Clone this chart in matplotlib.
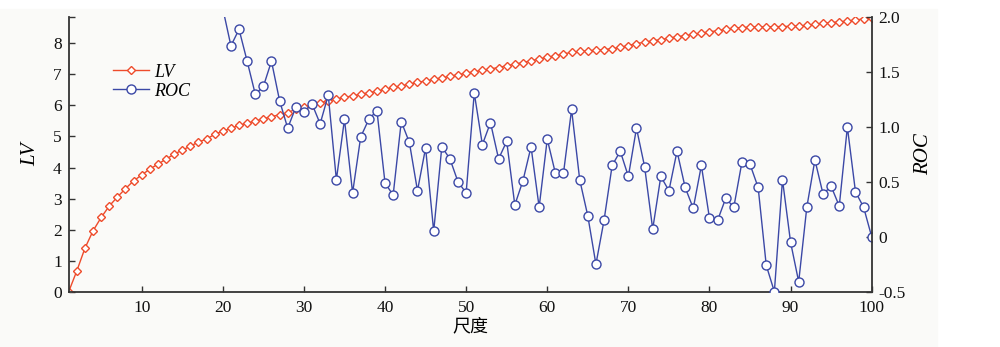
import numpy as np
import matplotlib.pyplot as plt
from matplotlib.patches import Rectangle

plt.rcParams['font.family'] = ['Liberation Serif', 'Noto Sans CJK SC']

# scale 1..100
scale = np.arange(1, 101)

lv = [0.00, 0.67, 1.40, 1.96, 2.39, 2.76, 3.05, 3.32, 3.57, 3.76,
      3.95, 4.11, 4.27, 4.43, 4.56, 4.69, 4.82, 4.92, 5.07, 5.17,
      5.26, 5.36, 5.43, 5.50, 5.57, 5.64, 5.70, 5.77, 5.88, 5.95,
      6.02, 6.09, 6.15, 6.21, 6.26, 6.31, 6.36, 6.41, 6.46, 6.52,
      6.58, 6.63, 6.69, 6.74, 6.79, 6.84, 6.89, 6.94, 6.99, 7.04,
      7.09, 7.13, 7.18, 7.22, 7.28, 7.33, 7.38, 7.44, 7.50, 7.55,
      7.60, 7.66, 7.71, 7.74, 7.76, 7.78, 7.80, 7.83, 7.87, 7.93,
      7.99, 8.04, 8.08, 8.12, 8.17, 8.21, 8.25, 8.29, 8.33, 8.37,
      8.41, 8.45, 8.49, 8.51, 8.52, 8.53, 8.53, 8.54, 8.54, 8.55,
      8.56, 8.58, 8.61, 8.64, 8.67, 8.69, 8.72, 8.75, 8.79, 8.82]

roc_x = np.arange(20, 101)
roc = [2.08, 1.74, 1.89, 1.60, 1.30, 1.37, 1.60, 1.24, 0.99, 1.18,
       1.14, 1.21, 1.03, 1.29, 0.52, 1.07, 0.40, 0.91, 1.07, 1.15,
       0.49, 0.38, 1.05, 0.86, 0.42, 0.81, 0.05, 0.82, 0.71, 0.50,
       0.40, 1.31, 0.84, 1.04, 0.71, 0.87, 0.29, 0.51, 0.82, 0.27,
       0.89, 0.58, 0.58, 1.16, 0.52, 0.19, -0.25, 0.15, 0.65, 0.78,
       0.55, 0.99, 0.64, 0.07, 0.55, 0.42, 0.78, 0.45, 0.26, 0.65,
       0.17, 0.15, 0.35, 0.27, 0.68, 0.66, 0.45, -0.26, -0.50, 0.52,
       -0.05, -0.41, 0.27, 0.70, 0.39, 0.46, 0.28, 1.00, 0.41, 0.27,
       0.00]

x_ticks = [10, 20, 30, 40, 50, 60, 70, 80, 90, 100]
lv_ticks = [0, 1, 2, 3, 4, 5, 6, 7, 8]
roc_ticks = [-0.5, 0, 0.5, 1.0, 1.5, 2.0]
roc_labels = ['-0.5', '0', '0.5', '1.0', '1.5', '2.0']

red = '#ee4b2b'
blue = '#3b48a6'
spine = '#333333'

fig = plt.figure(figsize=(10, 3.47), dpi=100)
fig.patches.append(Rectangle((0, 0), 0.937, 0.975, transform=fig.transFigure,
                             color='#fafaf8', zorder=-10))
ax = fig.add_axes([0.0687, 0.1594, 0.803, 0.7908])
ax.patch.set_alpha(0)
ax2 = ax.twinx()

l1, = ax.plot(scale, lv, color=red, lw=1, marker='D', ms=4.5,
              mfc='white', mec=red, mew=1, label='LV')
l2, = ax2.plot(roc_x, roc, color=blue, lw=1, marker='o', ms=6.5,
               mfc='white', mec=blue, mew=1, label='ROC')

ax.set_xlim(1, 100)
ax.set_ylim(0, 8.84)
ax2.set_ylim(-0.5, 2.0)

ax.set_xticks(x_ticks)
ax.set_yticks(lv_ticks)
ax.set_yticks([8.84], minor=True)
ax2.set_yticks(roc_ticks)
ax2.set_yticklabels(roc_labels)

for a in (ax, ax2):
    a.spines['top'].set_visible(False)
    for s in a.spines.values():
        s.set_color(spine)
        s.set_linewidth(1.3)
    a.tick_params(direction='in', length=4, width=1, colors=spine,
                  labelsize=12.5, labelcolor='#111111', pad=5)
    a.tick_params(which='minor', direction='in', length=4, width=1, colors=spine)
ax.tick_params(axis='x', pad=6)
ax.spines['right'].set_visible(False)
ax2.spines['left'].set_visible(False)
ax2.spines['bottom'].set_visible(False)

ax.set_ylabel('LV', fontstyle='italic', fontsize=15, labelpad=9)
ax2.set_ylabel('ROC', fontstyle='italic', fontsize=15, labelpad=6)
ax.set_xlabel('尺度', fontsize=13, fontfamily='Noto Sans CJK SC', labelpad=1)

ax2.legend(handles=[l1, l2], loc='upper left', bbox_to_anchor=(0.035, 0.89),
           frameon=False, prop={'style': 'italic', 'size': 13},
           handlelength=2.0, handletextpad=0.3, labelspacing=0.1)

fig.savefig('out.png', dpi=100)
